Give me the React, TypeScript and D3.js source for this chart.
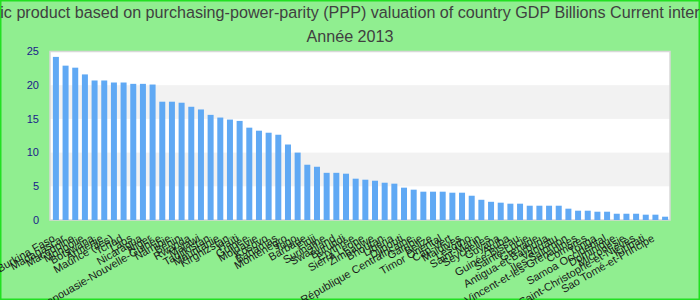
import React from "react";
import * as d3 from "d3";

const title =
  "Gross domestic product based on purchasing-power-parity (PPP) valuation of country GDP Billions Current international dollar";
const subtitle = "Année 2013";

const countries = [
  "Burkina Faso", "Madagascar", "Macédoine", "Mongolie", "Botswana", "Arménie",
  "Maurice (îles)", "Tchad", "Laos", "Nicaragua", "Niger", "Papouasie-Nouvelle-Guinée",
  "Namibie", "Bénin", "Rwanda", "Malawi", "Tadjikistan", "Mauritanie",
  "Kirghizstan", "Haïti", "Guinée", "Moldavie", "Kosovo", "Bahamas",
  "Monténégro", "Togo", "Barbade", "Fidji", "Suriname", "Swaziland",
  "Burundi", "Érythrée", "Sierra Leone", "Zimbabwe", "Bhoutan", "Libéria",
  "Djibouti", "République Centrafricaine", "Gambie", "Belize", "Timor Oriental", "Cap-Vert",
  "Maldives", "Lesotho", "Saint-Marin", "Seychelles", "Guyana", "Aruba",
  "Guinée-Bissau", "Sainte-Lucie", "Grenade", "Antigua-et-Barbuda", "Vanuatu", "Îles Salomon",
  "Saint-Vincent-et-les-Grenadines", "Comores", "Tonga", "Samoa Occidental", "Dominique", "Micronésie",
  "Saint-Christophe-et-Niévès", "Kiribati", "Sao Tomé-et-Principe", "",
];

const values = [
  24.2, 22.9, 22.6, 21.6, 20.7, 20.7, 20.4, 20.4, 20.2, 20.2, 20.1, 17.55,
  17.55, 17.4, 16.8, 16.4, 15.6, 15.2, 14.9, 14.7, 13.7, 13.25, 12.95, 12.65,
  11.2, 10.0, 8.2, 7.9, 7.0, 7.0, 6.87, 6.13, 5.98, 5.83, 5.53, 5.39,
  4.8, 4.5, 4.2, 4.2, 4.2, 4.05, 4.05, 3.6, 3.0, 2.7, 2.57, 2.42,
  2.42, 2.12, 2.12, 2.12, 2.12, 1.68, 1.38, 1.38, 1.23, 1.23, 0.93, 0.93,
  0.93, 0.79, 0.79, 0.49,
];

const yTicks = [0, 5, 10, 15, 20, 25];

export default function App() {
  const W = 700;
  const H = 300;
  const left = 50;
  const right = 670;
  const top = 51.5;
  const bottom = 220;

  const idx = countries.map((_, i) => i);
  const x = d3
    .scaleBand<number>()
    .domain(idx)
    .range([left, right + 1])
    .paddingInner(0.38)
    .paddingOuter(0.3);
  const y = d3.scaleLinear().domain([0, 25]).range([bottom, top]);

  const bands = yTicks.slice(0, -1).map((t, i) => ({ from: t, to: yTicks[i + 1], grey: i % 2 === 1 }));

  return (
    <svg
      width={W}
      height={H}
      style={{ position: "absolute", left: 0, top: 0, display: "block" }}
      fontFamily="'Liberation Sans', Arial, sans-serif"
    >
      <rect x={0.75} y={0.75} width={W - 1.5} height={H - 1.5} fill="#90ee90" stroke="#22e022" strokeWidth={1.5} />
      <text x={W / 2} y={18.3} textAnchor="middle" fontSize={16.15} fill="#404040">
        {title}
      </text>
      <text x={W / 2} y={41.5} textAnchor="middle" fontSize={16.15} fill="#404040">
        {subtitle}
      </text>
      <rect x={left} y={top} width={right - left} height={bottom - top} fill="#ffffff" />
      {bands.map((b) =>
        b.grey ? (
          <rect key={b.from} x={left} y={y(b.to)} width={right - left} height={y(b.from) - y(b.to)} fill="#f2f2f2" />
        ) : null
      )}
      <rect
        x={left}
        y={top}
        width={right - left}
        height={bottom - top}
        fill="none"
        stroke="#d8d8d8"
        strokeWidth={1.5}
      />
      {idx.map((i) => (
        <rect key={i} x={x(i)} y={y(values[i])} width={x.bandwidth()} height={bottom - y(values[i])} fill="#60a9f4" />
      ))}
      {yTicks.map((t) => (
        <text key={t} x={39} y={y(t)} dy="0.35em" textAnchor="end" fontSize={11} fill="#1a1a8a">
          {t}
        </text>
      ))}
      {idx.map((i) => {
        const cx = (x(i) as number) + x.bandwidth() / 2 - 2;
        return (
          <text
            key={i}
            transform={`translate(${cx},${237}) rotate(-30)`}
            textAnchor="end"
            dy="0.35em"
            fontSize={11}
            fill="#1a1a1a"
          >
            {countries[i]}
          </text>
        );
      })}
    </svg>
  );
}
